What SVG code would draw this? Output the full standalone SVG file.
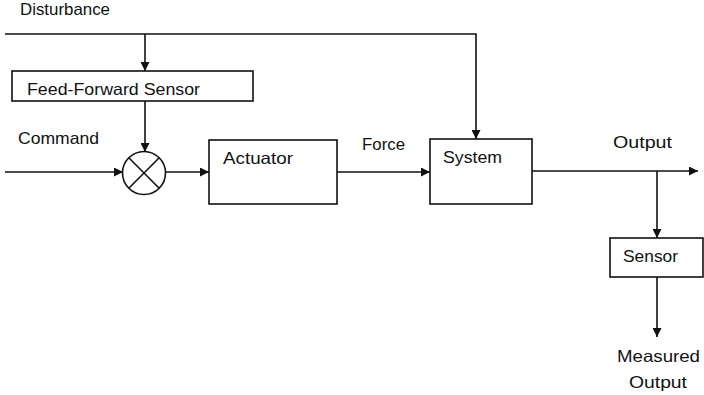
<svg xmlns="http://www.w3.org/2000/svg" width="704" height="395" viewBox="0 0 704 395">
<defs>
<marker id="ah" viewBox="0 0 10 10" refX="10" refY="5" markerWidth="9" markerHeight="9" markerUnits="userSpaceOnUse" orient="auto">
<path d="M0,0 L10,5 L0,10 z" fill="#111"/>
</marker>
<style>
.box{fill:#fff;stroke:#111;stroke-width:1.6}
.ln{fill:none;stroke:#111;stroke-width:1.6}
.ar{fill:none;stroke:#111;stroke-width:1.6;marker-end:url(#ah)}
text{font-family:"Liberation Sans",Arial,sans-serif;font-size:16.5px;fill:#111}
</style>
</defs>
<rect width="704" height="395" fill="#fff"/>
<g id="connectors">
<polyline class="ar" points="5,34 476,34 476,139"/>
<line class="ar" x1="145" y1="34" x2="145" y2="71"/>
<line class="ar" x1="145" y1="101" x2="145" y2="152"/>
<line class="ar" x1="5" y1="172" x2="123" y2="172"/>
<line class="ar" x1="165.5" y1="172" x2="209" y2="172"/>
<line class="ar" x1="337" y1="172" x2="430" y2="172"/>
<line class="ar" x1="532" y1="171" x2="698" y2="171"/>
<line class="ar" x1="657" y1="171" x2="657" y2="238"/>
<line class="ar" x1="657" y1="277" x2="657" y2="337"/>
</g>
<g id="disturbance-label"><text x="20" y="15" textLength="90" lengthAdjust="spacingAndGlyphs">Disturbance</text></g>
<g id="feed-forward-sensor">
<rect class="box" x="12" y="71" width="241" height="30"/>
<text x="27" y="95" textLength="173" lengthAdjust="spacingAndGlyphs">Feed-Forward Sensor</text>
</g>
<g id="command-label"><text x="18" y="144" textLength="81" lengthAdjust="spacingAndGlyphs">Command</text></g>
<g id="summing-junction">
<circle class="box" cx="144" cy="173" r="21.5"/>
<line class="ln" x1="128.8" y1="157.8" x2="159.2" y2="188.2"/>
<line class="ln" x1="159.2" y1="157.8" x2="128.8" y2="188.2"/>
</g>
<g id="actuator">
<rect class="box" x="209" y="140" width="128" height="64"/>
<text x="223" y="164" textLength="70" lengthAdjust="spacingAndGlyphs">Actuator</text>
</g>
<g id="force-label"><text x="362" y="150" textLength="43" lengthAdjust="spacingAndGlyphs">Force</text></g>
<g id="system">
<rect class="box" x="430" y="139" width="102" height="65"/>
<text x="443" y="163" textLength="59" lengthAdjust="spacingAndGlyphs">System</text>
</g>
<g id="output-label"><text x="613" y="148" textLength="59" lengthAdjust="spacingAndGlyphs">Output</text></g>
<g id="sensor">
<rect class="box" x="610" y="238" width="93" height="39"/>
<text x="623" y="262" textLength="55" lengthAdjust="spacingAndGlyphs">Sensor</text>
</g>
<g id="measured-output-label">
<text x="617" y="362" textLength="83" lengthAdjust="spacingAndGlyphs">Measured</text>
<text x="629" y="388" textLength="58" lengthAdjust="spacingAndGlyphs">Output</text>
</g>
</svg>
